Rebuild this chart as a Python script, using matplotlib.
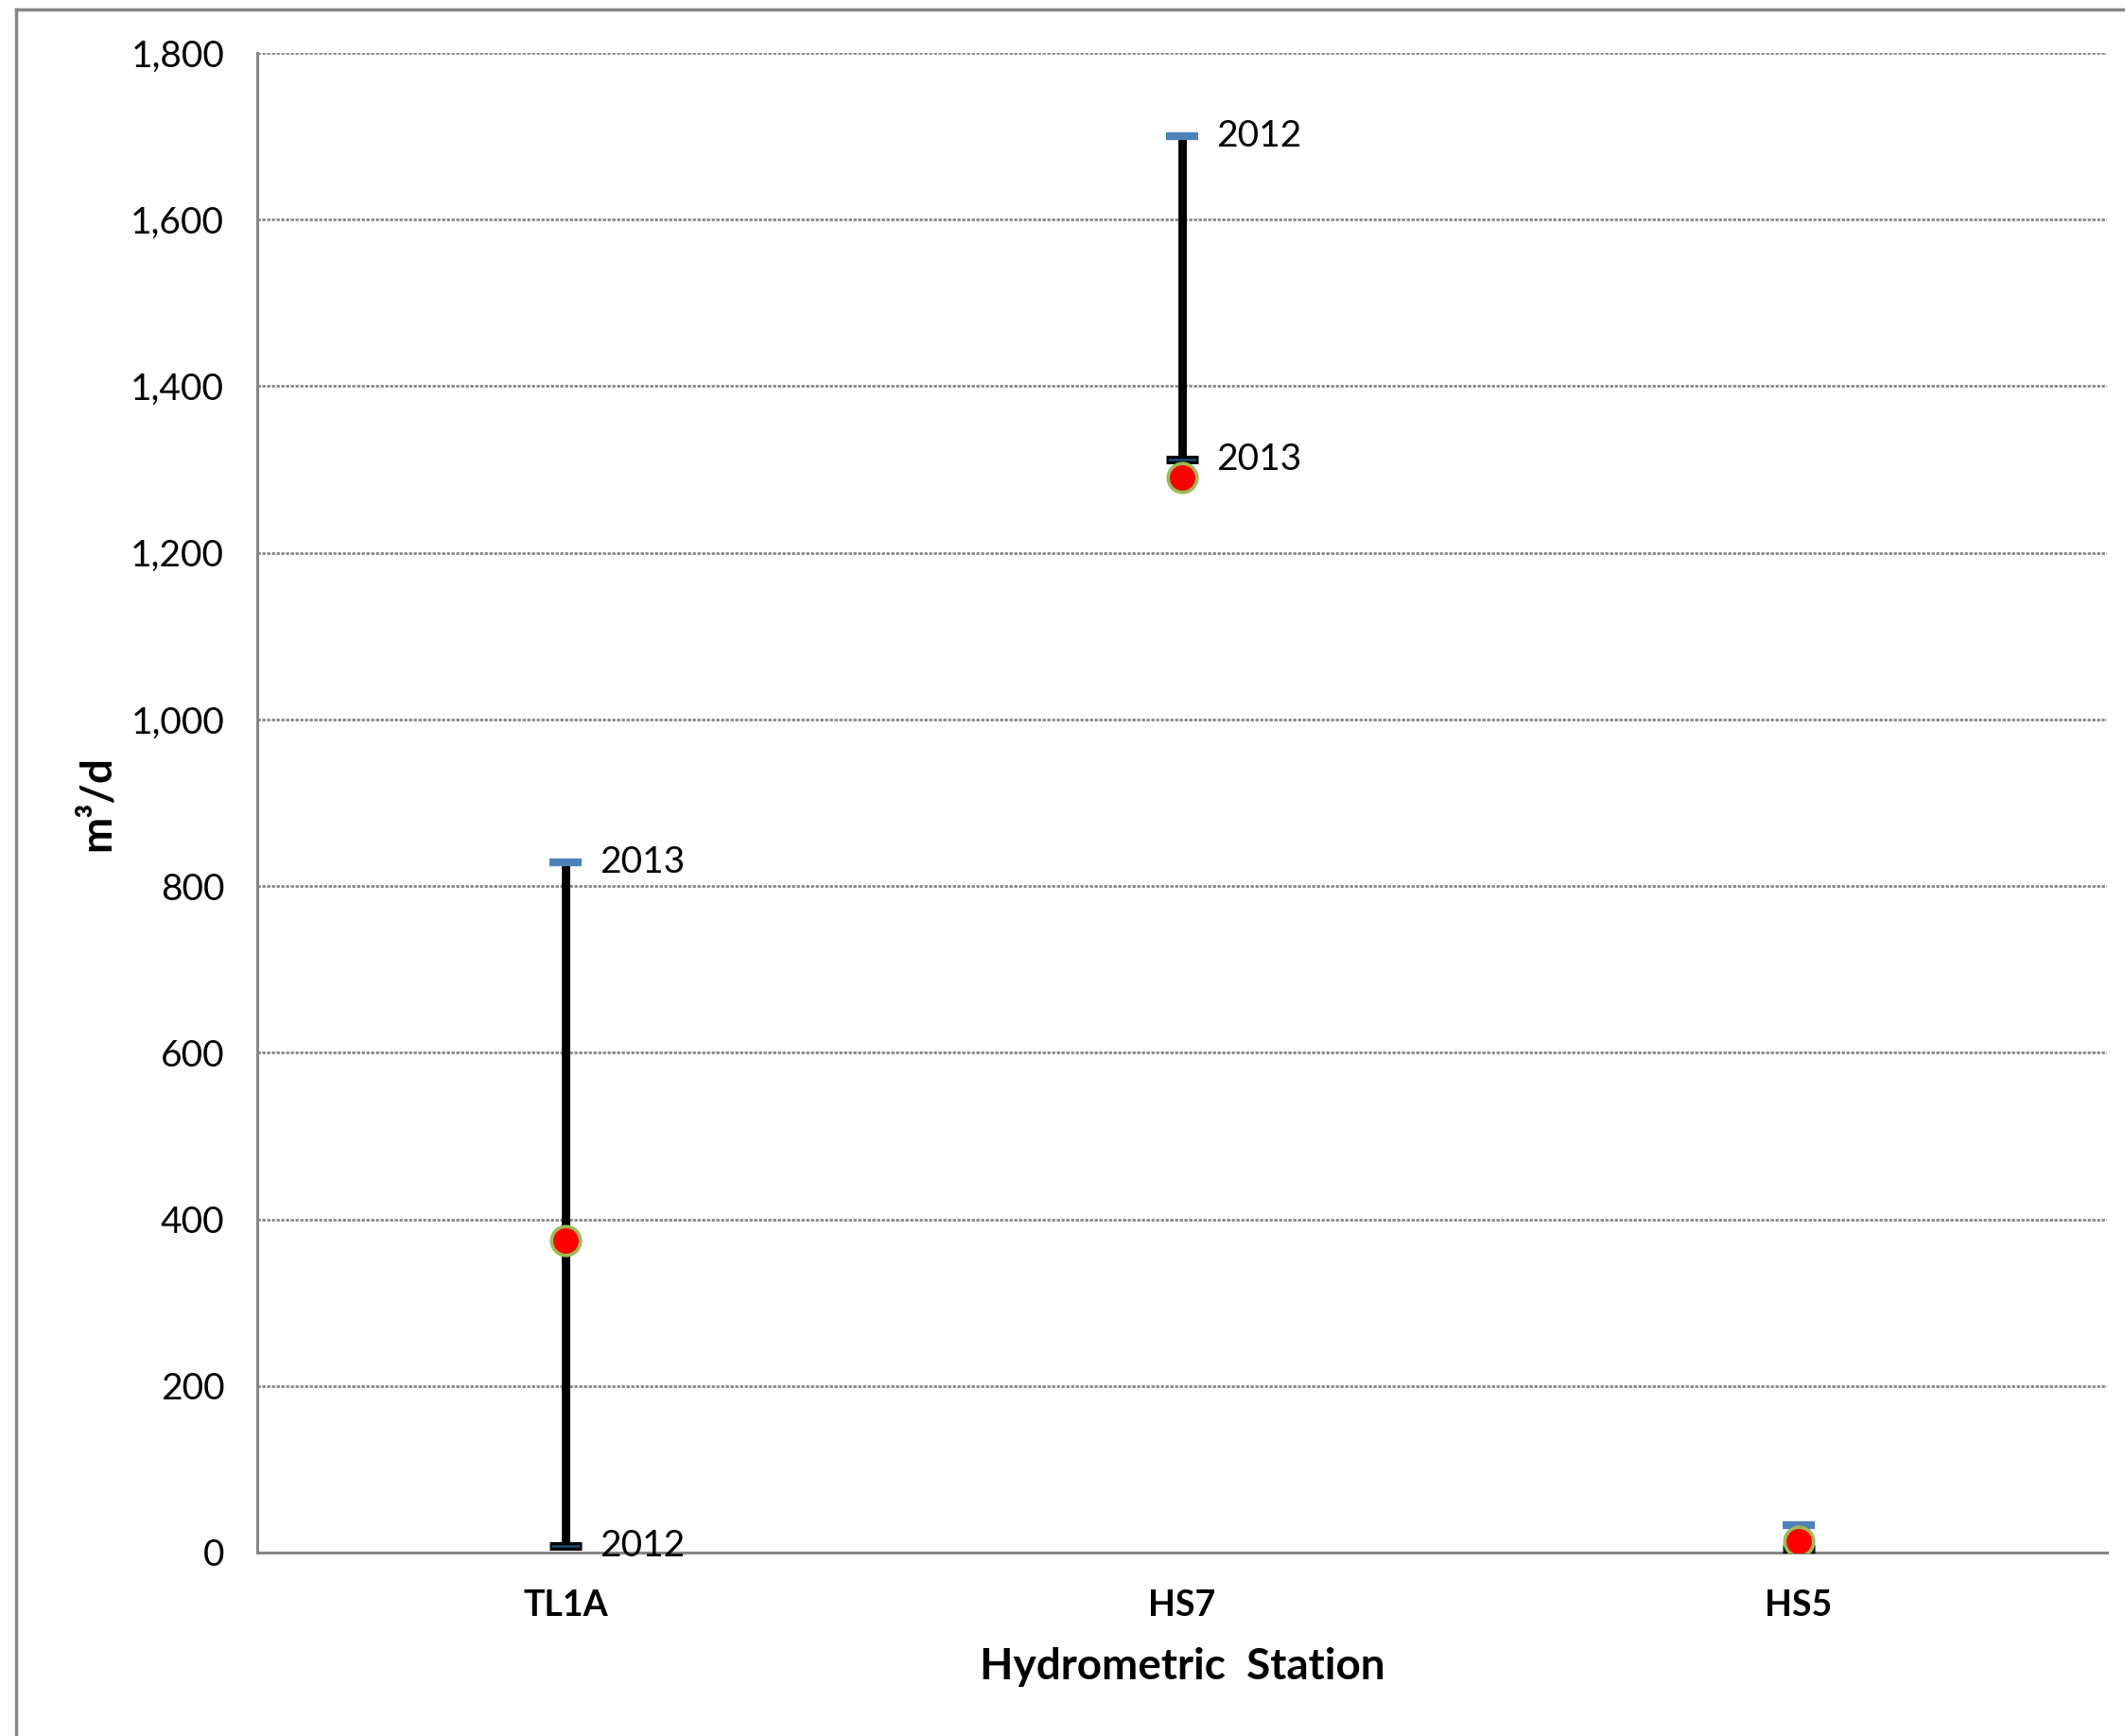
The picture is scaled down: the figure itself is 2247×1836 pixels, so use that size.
import matplotlib.pyplot as plt
from matplotlib.lines import Line2D

# data
stations = ["TL1A", "HS7", "HS5"]
high_vals = [828, 1700, 33]
low_vals = [8, 1312, 4]
mean_vals = [375, 1290, 14]
high_labels = ["2013", "2012", ""]
low_labels = ["2012", "2013", ""]
y_ticks = [0, 200, 400, 600, 800, 1000, 1200, 1400, 1600, 1800]

W, H = 2247, 1836
plt.rcParams['font.family'] = ['Lato', 'DejaVu Sans']

fig = plt.figure(figsize=(W / 100, H / 100), dpi=100)
ax = fig.add_axes([272 / W, 1 - 1642 / H, (2228 - 272) / W, (1642 - 56) / H])

# outer frame of the chart area
grey = "#868686"
fig.add_artist(Line2D([17 / W, 17 / W], [0, 1 - 10 / H], color=grey, lw=2.5, transform=fig.transFigure))
fig.add_artist(Line2D([17 / W, 1], [1 - 10 / H, 1 - 10 / H], color=grey, lw=2.5, transform=fig.transFigure))

x = list(range(len(stations)))

ax.vlines(x, low_vals, high_vals, color="black", lw=6.4, zorder=3)
# high caps (blue)
ax.plot(x, high_vals, ls="none", marker="_", ms=25, mew=6, color="#4f81bd", zorder=4)
# low caps (black with blue core)
ax.plot(x, low_vals, ls="none", marker="_", ms=25, mew=6.5, color="black", zorder=4)
ax.plot(x, low_vals, ls="none", marker="_", ms=22, mew=1.8, color="#1f4e79", zorder=5)
# mean markers
ax.plot(x, mean_vals, ls="none", marker="o", ms=22, mfc="#ff0000", mec="#9bbb59", mew=2.6, zorder=6)

for xi, hv, hl, lv, ll in zip(x, high_vals, high_labels, low_vals, low_labels):
    if hl:
        ax.annotate(hl, (xi, hv), xytext=(26, 0), textcoords="offset points",
                    va="center", ha="left", fontsize=28)
    if ll:
        ax.annotate(ll, (xi, lv), xytext=(26, 0), textcoords="offset points",
                    va="center", ha="left", fontsize=28)

ax.set_xlim(-0.5, 2.5)
ax.set_ylim(0, 1800)
ax.set_yticks(y_ticks)
ax.set_yticklabels([f"{v:,}" for v in y_ticks], fontsize=28)
ax.set_xticks(x)
ax.set_xticklabels(stations, fontsize=27, fontweight="bold")
ax.tick_params(axis="y", length=0, pad=25)
ax.tick_params(axis="x", length=0, pad=28)

ax.grid(axis="y", color=grey, lw=2, ls=(0, (1.2, 0.6)))
ax.set_axisbelow(True)
for s in ["top", "right"]:
    ax.spines[s].set_visible(False)
for s in ["left", "bottom"]:
    ax.spines[s].set_color(grey)
    ax.spines[s].set_linewidth(2.2)

fig.text(1250 / W, 1 - 1763 / H, "Hydrometric  Station", ha="center", va="center",
         fontsize=33, fontweight="bold")
fig.text(103 / W, 1 - 850 / H, "m³/d", ha="center", va="center", rotation=90,
         fontsize=33, fontweight="bold")

fig.savefig("out.png", dpi=100, facecolor="white")
